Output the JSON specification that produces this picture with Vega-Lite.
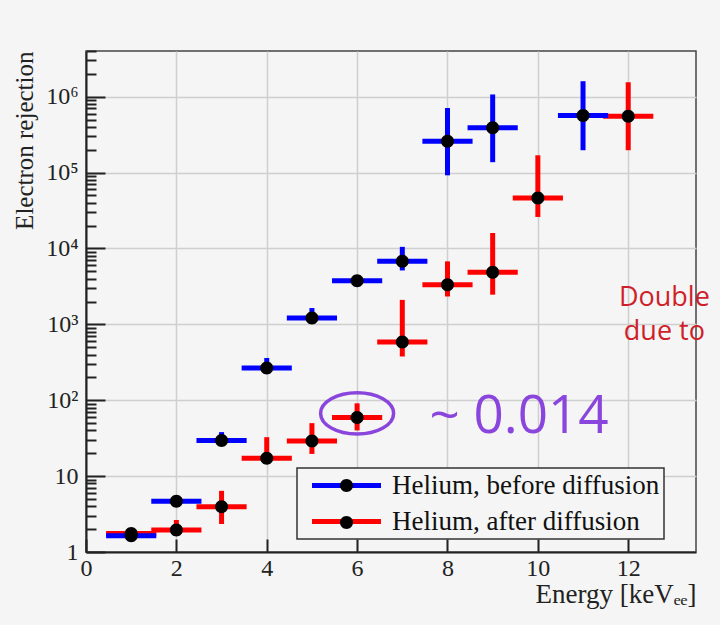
{
  "$schema": "https://vega.github.io/schema/vega-lite/v6.json",
  "width": 610,
  "height": 501,
  "autosize": {"type": "none"},
  "padding": {"left": 86, "top": 51, "right": 24, "bottom": 73},
  "background": "#f4f5f4",
  "config": {
    "view": {"stroke": "#444", "strokeWidth": 1.5},
    "legend": {"strokeWidth": 1.5}
  },
  "datasets": {
    "pts": [
      {"series": "Helium, after diffusion", "e": 1, "lo": 0.5, "hi": 1.5, "v": 1.75, "vlo": 1.6, "vhi": 1.9},
      {"series": "Helium, after diffusion", "e": 2, "lo": 1.5, "hi": 2.5, "v": 1.95, "vlo": 1.75, "vhi": 2.64},
      {"series": "Helium, after diffusion", "e": 3, "lo": 2.5, "hi": 3.5, "v": 3.96, "vlo": 2.34, "vhi": 6.4},
      {"series": "Helium, after diffusion", "e": 4, "lo": 3.5, "hi": 4.5, "v": 17.2, "vlo": 14.8, "vhi": 32.6},
      {"series": "Helium, after diffusion", "e": 5, "lo": 4.5, "hi": 5.5, "v": 29.1, "vlo": 19.6, "vhi": 49.9},
      {"series": "Helium, after diffusion", "e": 6, "lo": 5.5, "hi": 6.5, "v": 59, "vlo": 40, "vhi": 91},
      {"series": "Helium, after diffusion", "e": 7, "lo": 6.5, "hi": 7.5, "v": 584, "vlo": 377, "vhi": 2100},
      {"series": "Helium, after diffusion", "e": 8, "lo": 7.5, "hi": 8.5, "v": 3330, "vlo": 2330, "vhi": 6760},
      {"series": "Helium, after diffusion", "e": 9, "lo": 8.5, "hi": 9.5, "v": 4840, "vlo": 2460, "vhi": 16000},
      {"series": "Helium, after diffusion", "e": 10, "lo": 9.5, "hi": 10.5, "v": 46400, "vlo": 26000, "vhi": 169000},
      {"series": "Helium, after diffusion", "e": 12, "lo": 11.5, "hi": 12.5, "v": 553000, "vlo": 197000, "vhi": 1550000},
      {"series": "Helium, before diffusion", "e": 1, "lo": 0.5, "hi": 1.5, "v": 1.64, "vlo": 1.55, "vhi": 1.75},
      {"series": "Helium, before diffusion", "e": 2, "lo": 1.5, "hi": 2.5, "v": 4.67, "vlo": 4.4, "vhi": 5.0},
      {"series": "Helium, before diffusion", "e": 3, "lo": 2.5, "hi": 3.5, "v": 29.4, "vlo": 27, "vhi": 38},
      {"series": "Helium, before diffusion", "e": 4, "lo": 3.5, "hi": 4.5, "v": 265, "vlo": 240, "vhi": 360},
      {"series": "Helium, before diffusion", "e": 5, "lo": 4.5, "hi": 5.5, "v": 1210, "vlo": 1100, "vhi": 1640},
      {"series": "Helium, before diffusion", "e": 6, "lo": 5.5, "hi": 6.5, "v": 3760, "vlo": 3500, "vhi": 4100},
      {"series": "Helium, before diffusion", "e": 7, "lo": 6.5, "hi": 7.5, "v": 6760, "vlo": 5130, "vhi": 10500},
      {"series": "Helium, before diffusion", "e": 8, "lo": 7.5, "hi": 8.5, "v": 259000, "vlo": 92000, "vhi": 710000},
      {"series": "Helium, before diffusion", "e": 9, "lo": 8.5, "hi": 9.5, "v": 389000, "vlo": 137000, "vhi": 1070000},
      {"series": "Helium, before diffusion", "e": 11, "lo": 10.5, "hi": 11.5, "v": 565000, "vlo": 197000, "vhi": 1600000}
    ],
    "ring": [{"e": 6, "v": 67}],
    "note": [{"e": 7.6, "v": 37, "label": "~ 0.014"}],
    "side": [
      {"e": 12.8, "v": 1760, "label": "Double"},
      {"e": 12.8, "v": 627, "label": "due to"}
    ]
  },
  "resolve": {"axis": {"x": "independent", "y": "independent"}},
  "layer": [
    {
      "data": {"name": "pts"},
      "mark": {"type": "rule", "strokeWidth": 5, "strokeCap": "square"},
      "encoding": {
        "x": {
          "field": "lo", "type": "quantitative",
          "scale": {"domain": [0, 13.5], "nice": false, "zero": false},
          "axis": {
            "orient": "bottom",
            "values": [0, 2, 4, 6, 8, 10, 12],
            "format": "d",
            "ticks": true, "tickSize": -13, "tickWidth": 2, "tickColor": "#222",
            "grid": true, "gridColor": "#cfcfcf", "gridWidth": 1.5,
            "domain": true, "domainColor": "#222", "domainWidth": 2,
            "labelFont": "Liberation Serif", "labelFontSize": 24, "labelColor": "#222",
            "labelPadding": 17, "labelOverlap": false, "labelFlush": false,
            "title": "Energy [keVₑₑ]",
            "titleFont": "Liberation Serif", "titleFontSize": 27, "titleFontWeight": "normal",
            "titleColor": "#222", "titleAnchor": "end", "titlePadding": 1
          }
        },
        "x2": {"field": "hi"},
        "y": {
          "field": "v", "type": "quantitative",
          "scale": {"type": "log", "domain": [1, 4000000], "nice": false},
          "axis": {
            "orient": "left",
            "values": [1, 2, 3, 4, 5, 6, 7, 8, 9, 10, 20, 30, 40, 50, 60, 70, 80, 90, 100, 200, 300, 400, 500, 600, 700, 800, 900, 1000, 2000, 3000, 4000, 5000, 6000, 7000, 8000, 9000, 10000, 20000, 30000, 40000, 50000, 60000, 70000, 80000, 90000, 100000, 200000, 300000, 400000, 500000, 600000, 700000, 800000, 900000, 1000000, 2000000, 3000000, 4000000],
            "labelExpr": "datum.value == 1 ? '1' : datum.value == 10 ? '10' : datum.value == 100 ? '10²' : datum.value == 1000 ? '10³' : datum.value == 10000 ? '10⁴' : datum.value == 100000 ? '10⁵' : datum.value == 1000000 ? '10⁶' : ''",
            "ticks": true,
            "tickSize": {"condition": {"test": "datum.value == 1 || datum.value == 10 || datum.value == 100 || datum.value == 1000 || datum.value == 10000 || datum.value == 100000 || datum.value == 1000000", "value": -19}, "value": -10},
            "tickWidth": 2, "tickColor": "#222",
            "grid": true, "gridColor": "#cfcfcf", "gridWidth": 1.5,
            "gridOpacity": {"condition": {"test": "datum.value == 1 || datum.value == 10 || datum.value == 100 || datum.value == 1000 || datum.value == 10000 || datum.value == 100000 || datum.value == 1000000", "value": 1}, "value": 0},
            "domain": true, "domainColor": "#222", "domainWidth": 2,
            "labelFont": "Liberation Serif", "labelFontSize": 24, "labelColor": "#222",
            "labelPadding": 27, "labelOverlap": false, "labelFlush": false,
            "title": "Electron rejection",
            "titleFont": "Liberation Serif", "titleFontSize": 25, "titleFontWeight": "normal",
            "titleColor": "#222", "titleAnchor": "end", "titlePadding": 8
          }
        },
        "color": {
          "field": "series", "type": "nominal",
          "scale": {"domain": ["Helium, before diffusion", "Helium, after diffusion"], "range": ["#0000ff", "#ff0000"]},
          "legend": {
            "title": null, "orient": "none", "legendX": 211, "legendY": 417,
            "direction": "vertical",
            "padding": 4, "fillColor": "#f4f5f4", "strokeColor": "#333",
            "symbolType": "M-3.136,0L3.136,0", "symbolSize": 484, "symbolStrokeWidth": 5,
            "symbolOffset": 32, "labelOffset": 32,
            "labelFont": "Liberation Serif", "labelFontSize": 27, "labelColor": "#111",
            "labelLimit": 400, "rowPadding": 8
          }
        }
      }
    },
    {
      "data": {"name": "pts"},
      "mark": {"type": "rule", "strokeWidth": 5},
      "encoding": {
        "x": {"field": "e", "type": "quantitative", "axis": null},
        "y": {"field": "vlo", "type": "quantitative", "axis": null},
        "y2": {"field": "vhi"},
        "color": {"field": "series", "type": "nominal"}
      }
    },
    {
      "data": {"name": "pts"},
      "mark": {"type": "point", "filled": true, "color": "black", "opacity": 1, "size": 484},
      "encoding": {
        "x": {"field": "e", "type": "quantitative", "axis": null},
        "y": {"field": "v", "type": "quantitative", "axis": null},
        "shape": {
          "field": "series", "type": "nominal",
          "scale": {"range": ["M-0.591,0A0.591,0.591,0,1,0,0.591,0A0.591,0.591,0,1,0,-0.591,0Z", "M-0.591,0A0.591,0.591,0,1,0,0.591,0A0.591,0.591,0,1,0,-0.591,0Z"]},
          "legend": {
            "title": null, "orient": "none", "legendX": 211, "legendY": 417,
            "direction": "vertical",
            "padding": 4, "fillColor": "transparent", "strokeColor": "transparent",
            "symbolSize": 484, "symbolStrokeWidth": 5, "symbolStrokeColor": "transparent",
            "symbolFillColor": "black", "symbolOffset": 32, "labelOffset": 32,
            "labelFont": "Liberation Serif", "labelFontSize": 27, "labelOpacity": 0,
            "labelLimit": 400, "rowPadding": 2
          }
        }
      }
    },
    {
      "data": {"name": "ring"},
      "mark": {"type": "point", "shape": "M-1,0A1,0.565,0,1,0,1,0A1,0.565,0,1,0,-1,0Z", "filled": false, "stroke": "#8a45dd", "strokeWidth": 3.5, "opacity": 1, "size": 5329},
      "encoding": {
        "x": {"field": "e", "type": "quantitative", "axis": null},
        "y": {"field": "v", "type": "quantitative", "axis": null}
      }
    },
    {
      "data": {"name": "note"},
      "mark": {"type": "text", "align": "left", "baseline": "alphabetic", "font": "Open Sans", "fontSize": 53, "color": "#8a45dd"},
      "encoding": {
        "x": {"field": "e", "type": "quantitative", "axis": null},
        "y": {"field": "v", "type": "quantitative", "axis": null},
        "text": {"field": "label"}
      }
    },
    {
      "data": {"name": "side"},
      "mark": {"type": "text", "align": "center", "baseline": "alphabetic", "font": "Open Sans", "fontSize": 27, "color": "#cf1f2b"},
      "encoding": {
        "x": {"field": "e", "type": "quantitative", "axis": null},
        "y": {"field": "v", "type": "quantitative", "axis": null},
        "text": {"field": "label"}
      }
    }
  ]
}
